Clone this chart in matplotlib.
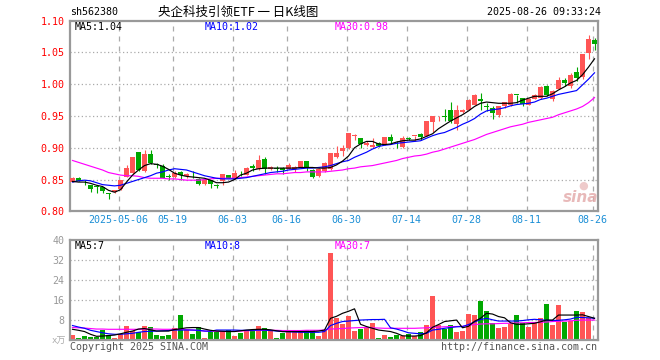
import matplotlib
matplotlib.use("Agg")
import matplotlib.pyplot as plt
import numpy as np

plt.rcParams['font.family'] = ['DejaVu Sans Mono', 'Noto Sans CJK SC']

# ---------------- data ----------------
opens = [0.8465, 0.8518, 0.8475, 0.8408, 0.8385, 0.8380, 0.8285, 0.8303, 0.8355, 0.8544,
         0.8597, 0.8927, 0.8633, 0.8906, 0.8740, 0.8712, 0.8545, 0.8544, 0.8623, 0.8549,
         0.8600, 0.8513, 0.8424, 0.8487, 0.8410, 0.8476, 0.8565, 0.8518, 0.8602, 0.8570,
         0.8712, 0.8660, 0.8816, 0.8660, 0.8686, 0.8675, 0.8670, 0.8660, 0.8696, 0.8790,
         0.8644, 0.8554, 0.8633, 0.8660, 0.8853, 0.8947, 0.8990, 0.9188, 0.9146, 0.9041,
         0.9010, 0.9078, 0.9052, 0.9167, 0.9090, 0.9010, 0.9146, 0.9186, 0.9219, 0.9183,
         0.9400, 0.9495, 0.9492, 0.9592, 0.9380, 0.9560, 0.9602, 0.9680, 0.9775, 0.9647,
         0.9628, 0.9508, 0.9654, 0.9680, 0.9829, 0.9776, 0.9680, 0.9775, 0.9785, 0.9980,
         0.9775, 0.9932, 1.0060, 0.9970, 1.0189, 1.0110, 1.0490, 1.0692]
highs = [0.8540, 0.8535, 0.8500, 0.8420, 0.8400, 0.8390, 0.8290, 0.8340, 0.8490, 0.8728,
         0.8860, 0.8940, 0.8960, 0.8960, 0.8760, 0.8740, 0.8585, 0.8633, 0.8633, 0.8596,
         0.8633, 0.8518, 0.8497, 0.8497, 0.8434, 0.8580, 0.8570, 0.8649, 0.8633, 0.8696,
         0.8748, 0.8879, 0.8848, 0.8706, 0.8710, 0.8691, 0.8754, 0.8706, 0.8790, 0.8790,
         0.8660, 0.8675, 0.8775, 0.8910, 0.9030, 0.9040, 0.9235, 0.9220, 0.9152, 0.9104,
         0.9146, 0.9088, 0.9170, 0.9210, 0.9104, 0.9183, 0.9170, 0.9190, 0.9235, 0.9426,
         0.9505, 0.9503, 0.9607, 0.9720, 0.9680, 0.9607, 0.9770, 0.9850, 0.9864, 0.9707,
         0.9654, 0.9665, 0.9722, 0.9864, 0.9830, 0.9785, 0.9780, 0.9850, 0.9970, 0.9990,
         0.9915, 1.0116, 1.0100, 1.0179, 1.0268, 1.0483, 1.0771, 1.0730]
lows = [0.8460, 0.8470, 0.8420, 0.8310, 0.8290, 0.8290, 0.8190, 0.8290, 0.8340, 0.8540,
        0.8590, 0.8640, 0.8620, 0.8740, 0.8686, 0.8518, 0.8495, 0.8520, 0.8500, 0.8530,
        0.8530, 0.8414, 0.8414, 0.8372, 0.8372, 0.8413, 0.8520, 0.8510, 0.8550, 0.8565,
        0.8633, 0.8650, 0.8590, 0.8649, 0.8620, 0.8590, 0.8660, 0.8620, 0.8690, 0.8633,
        0.8530, 0.8544, 0.8620, 0.8655, 0.8840, 0.8870, 0.8980, 0.9130, 0.9000, 0.9025,
        0.9000, 0.9010, 0.9040, 0.9078, 0.9000, 0.9000, 0.9115, 0.9100, 0.9130, 0.9180,
        0.9245, 0.9420, 0.9420, 0.9390, 0.9287, 0.9550, 0.9590, 0.9670, 0.9600, 0.9576,
        0.9445, 0.9487, 0.9630, 0.9665, 0.9707, 0.9660, 0.9670, 0.9760, 0.9770, 0.9815,
        0.9740, 0.9920, 0.9970, 0.9943, 1.0048, 1.0080, 1.0400, 1.0545]
closes = [0.8528, 0.8476, 0.8470, 0.8355, 0.8380, 0.8320, 0.8280, 0.8330, 0.8486, 0.8675,
          0.8848, 0.8649, 0.8906, 0.8754, 0.8735, 0.8528, 0.8540, 0.8596, 0.8565, 0.8580,
          0.8595, 0.8424, 0.8492, 0.8424, 0.8406, 0.8580, 0.8528, 0.8596, 0.8598, 0.8680,
          0.8675, 0.8800, 0.8660, 0.8700, 0.8660, 0.8643, 0.8722, 0.8700, 0.8790, 0.8686,
          0.8544, 0.8670, 0.8754, 0.8910, 0.8925, 0.9000, 0.9235, 0.9193, 0.9052, 0.9073,
          0.9041, 0.9026, 0.9167, 0.9104, 0.9086, 0.9157, 0.9141, 0.9190, 0.9167, 0.9420,
          0.9497, 0.9499, 0.9487, 0.9419, 0.9602, 0.9602, 0.9749, 0.9838, 0.9733, 0.9644,
          0.9550, 0.9654, 0.9717, 0.9853, 0.9827, 0.9690, 0.9760, 0.9827, 0.9953, 0.9827,
          0.9900, 1.0074, 1.0020, 1.0153, 1.0100, 1.0483, 1.0719, 1.0635]
volumes = [2.1, 1.1, 1.9, 1.5, 1.5, 4.3, 2.1, 1.1, 2.7, 5.7,
           3.9, 3.5, 5.7, 5.3, 2.1, 1.7, 2.1, 5.1, 10.1, 4.1,
           2.5, 5.2, 1.1, 3.5, 3.2, 3.7, 4.0, 1.7, 3.1, 4.3,
           3.7, 5.7, 5.1, 4.1, 1.1, 3.1, 4.1, 3.5, 4.1, 4.1,
           4.1, 1.7, 4.0, 35.1, 9.1, 6.5, 9.7, 3.9, 4.5, 4.8,
           6.8, 1.1, 2.1, 1.5, 2.1, 1.7, 2.4, 1.7, 3.5, 6.1,
           17.9, 6.1, 4.4, 6.1, 3.5, 3.9, 10.5, 10.1, 15.9, 11.7,
           6.8, 5.1, 5.5, 6.4, 10.1, 6.8, 5.5, 6.8, 9.1, 14.5,
           6.1, 14.1, 7.5, 7.7, 11.7, 11.3, 9.1, 0.5]

# moving-average lines as drawn in the reference (price panel)
ma5 = [0.847, 0.846, 0.846, 0.844, 0.841, 0.839, 0.833, 0.830, 0.834, 0.846,
       0.857, 0.865, 0.872, 0.875, 0.874, 0.871, 0.866, 0.860, 0.857, 0.855,
       0.854, 0.853, 0.852, 0.849, 0.845, 0.845, 0.846, 0.850, 0.857, 0.860,
       0.865, 0.867, 0.868, 0.868, 0.868, 0.868, 0.868, 0.868, 0.869, 0.869,
       0.869, 0.868, 0.868, 0.869, 0.873, 0.879, 0.887, 0.900, 0.906, 0.910,
       0.910, 0.906, 0.905, 0.906, 0.909, 0.911, 0.912, 0.912, 0.914, 0.918,
       0.922, 0.930, 0.936, 0.942, 0.947, 0.952, 0.958, 0.965, 0.970, 0.972,
       0.971, 0.970, 0.970, 0.970, 0.971, 0.975, 0.978, 0.981, 0.981, 0.981,
       0.985, 0.991, 0.996, 1.002, 1.006, 1.015, 1.027, 1.040]
ma10 = [0.846, 0.848, 0.849, 0.848, 0.845, 0.842, 0.841, 0.840, 0.841, 0.844,
        0.847, 0.850, 0.853, 0.856, 0.860, 0.862, 0.865, 0.867, 0.866, 0.865,
        0.862, 0.859, 0.856, 0.854, 0.852, 0.851, 0.851, 0.851, 0.852, 0.853,
        0.855, 0.857, 0.859, 0.861, 0.862, 0.863, 0.865, 0.866, 0.867, 0.868,
        0.868, 0.869, 0.870, 0.872, 0.875, 0.878, 0.880, 0.885, 0.889, 0.893,
        0.898, 0.902, 0.904, 0.905, 0.907, 0.908, 0.909, 0.910, 0.911, 0.915,
        0.919, 0.922, 0.924, 0.928, 0.932, 0.937, 0.941, 0.946, 0.953, 0.958,
        0.960, 0.961, 0.963, 0.966, 0.968, 0.969, 0.970, 0.972, 0.976, 0.978,
        0.981, 0.984, 0.986, 0.988, 0.990, 0.999, 1.008, 1.018]
ma30 = [0.880, 0.877, 0.874, 0.871, 0.868, 0.865, 0.861, 0.859, 0.857, 0.856,
        0.856, 0.855, 0.853, 0.852, 0.852, 0.852, 0.851, 0.851, 0.850, 0.849,
        0.849, 0.849, 0.850, 0.851, 0.852, 0.852, 0.852, 0.852, 0.853, 0.854,
        0.855, 0.856, 0.857, 0.858, 0.859, 0.859, 0.860, 0.861, 0.861, 0.862,
        0.862, 0.862, 0.862, 0.863, 0.864, 0.865, 0.867, 0.868, 0.870, 0.871,
        0.872, 0.874, 0.876, 0.878, 0.880, 0.883, 0.885, 0.887, 0.888, 0.890,
        0.893, 0.895, 0.898, 0.901, 0.904, 0.907, 0.910, 0.913, 0.917, 0.921,
        0.924, 0.927, 0.930, 0.933, 0.935, 0.937, 0.940, 0.942, 0.944, 0.946,
        0.948, 0.952, 0.955, 0.958, 0.961, 0.965, 0.971, 0.979]

# moving-average lines (volume panel, 万)
vma5 = [4.4, 4.0, 3.5, 2.4, 1.6, 1.7, 1.9, 2.1, 2.6, 3.2,
        3.7, 4.5, 4.7, 4.2, 3.7, 3.7, 3.7, 4.3, 4.6, 5.0,
        5.1, 5.1, 4.5, 4.0, 3.7, 3.6, 3.5, 3.5, 3.8, 4.1,
        4.3, 4.4, 4.4, 4.2, 3.8, 3.5, 3.5, 3.5, 3.5, 3.5,
        3.5, 3.7, 4.1, 8.8, 9.6, 10.8, 11.6, 12.6, 6.4, 5.5,
        4.8, 4.1, 3.8, 3.5, 2.8, 1.8, 1.7, 1.7, 1.9, 3.0,
        5.2, 6.3, 7.5, 7.8, 8.1, 5.0, 5.6, 7.6, 8.8, 10.8,
        10.5, 9.5, 9.0, 7.0, 6.4, 6.4, 6.6, 6.8, 7.4, 8.1,
        8.1, 10.1, 10.1, 10.1, 10.1, 10.2, 9.5, 8.8]
vma10 = [5.9, 5.3, 4.8, 4.0, 3.5, 3.0, 2.6, 2.4, 2.4, 2.6,
         2.8, 3.2, 3.5, 3.6, 3.7, 3.8, 3.9, 4.1, 4.1, 4.1,
         4.1, 4.0, 3.7, 3.6, 4.1, 4.1, 4.1, 4.1, 4.0, 4.0,
         4.0, 4.1, 4.1, 3.9, 3.7, 3.5, 3.4, 3.3, 3.2, 3.2,
         3.2, 3.2, 3.5, 5.9, 6.8, 7.5, 7.7, 7.9, 8.1, 8.2,
         8.3, 8.3, 8.4, 5.0, 4.5, 3.8, 3.0, 2.8, 2.6, 2.8,
         4.1, 4.4, 4.8, 5.1, 5.4, 5.5, 6.3, 7.3, 8.3, 8.8,
         8.2, 7.7, 7.7, 7.7, 7.7, 7.9, 8.2, 8.4, 8.2, 8.0,
         7.9, 8.0, 8.2, 8.5, 9.2, 9.1, 9.0, 8.8]
vma30 = [5.1, 5.0, 4.9, 4.7, 4.5, 4.5, 4.4, 4.4, 4.4, 4.4,
         4.4, 4.4, 4.5, 4.5, 4.5, 4.4, 4.4, 4.4, 4.4, 4.3,
         4.1, 3.9, 3.7, 3.7, 3.6, 3.5, 3.5, 3.6, 3.7, 3.8,
         3.9, 4.0, 4.0, 4.0, 4.0, 3.9, 3.9, 3.9, 3.9, 4.0,
         4.0, 4.0, 4.1, 4.5, 4.6, 4.7, 4.9, 5.0, 5.1, 5.1,
         5.0, 4.9, 4.8, 4.8, 4.8, 4.8, 4.8, 4.8, 4.9, 5.0,
         5.2, 5.3, 5.4, 5.5, 5.5, 5.6, 6.0, 6.3, 6.5, 6.6,
         6.6, 6.7, 6.8, 6.8, 7.0, 7.0, 7.1, 7.1, 7.2, 7.3,
         7.5, 7.6, 7.7, 7.8, 8.0, 8.1, 8.1, 8.1]

tick_idx = [8, 17, 27, 36, 46, 56, 66, 76, 87]
tick_labels = ['2025-05-06', '05-19', '06-03', '06-16', '06-30',
               '07-14', '07-28', '08-11', '08-26']
price_ticks = [0.80, 0.85, 0.90, 0.95, 1.00, 1.05, 1.10]
vol_ticks = [8, 16, 24, 32, 40]

# ---------------- styling ----------------
W, H = 660, 360
RED = '#ff5555'
GREEN = '#00a800'
GRID = '#aaaaaa'
FRAME = '#999999'
XLAB = '#1c8fd6'
FS = 7.2


def px(x, y):
    return x / W, 1 - y / H


fig = plt.figure(figsize=(W / 100, H / 100), dpi=100)
fig.patch.set_facecolor('white')

L, R = 70, 598
ax = fig.add_axes([L / W, 1 - 211.3 / H, (R - L) / W, (211.3 - 20.7) / H])
axv = fig.add_axes([L / W, 1 - 340.3 / H, (R - L) / W, (340.3 - 240.3) / H])

o = np.array(opens)
h = np.array(highs)
lo = np.array(lows)
c = np.array(closes)
v = np.array(volumes)
x = np.arange(len(c))
up = c >= o
cols = [RED if u else GREEN for u in up]

xmin, xmax = -0.42, 87.58
grid_x = [t - 0.3 for t in tick_idx]

for a in (ax, axv):
    a.set_xlim(xmin, xmax)
    for gx in grid_x:
        a.axvline(gx, color=GRID, lw=0.9, ls=(0, (4, 4)), zorder=0)
    for s in a.spines.values():
        s.set_color(FRAME)
        s.set_linewidth(1.6)
    a.tick_params(length=0)

# price panel
ax.set_ylim(0.80, 1.10)
for gy in price_ticks[1:-1]:
    ax.axhline(gy, color=GRID, lw=0.9, ls=(0, (1, 2)), zorder=0)
ax.vlines(x, lo, h, colors=cols, lw=0.8, zorder=2)
body = np.maximum(np.abs(c - o), 0.0012)
ax.bar(x, body, bottom=np.minimum(o, c), width=0.82, color=cols, lw=0, zorder=3)
ax.plot(x, ma30, color='#ff00ff', lw=0.85, zorder=4)
ax.plot(x, ma10, color='#0000ff', lw=0.85, zorder=4)
ax.plot(x, ma5, color='black', lw=0.85, zorder=4)
ax.set_yticks(price_ticks)
ax.set_yticklabels(['%.2f' % t for t in price_ticks])
ax.tick_params(axis='y', labelcolor='red', labelsize=FS, pad=4)
ax.set_xticks(grid_x)
ax.set_xticklabels(tick_labels)
ax.tick_params(axis='x', labelcolor=XLAB, labelsize=FS, pad=3)

# volume panel
axv.set_ylim(0, 40)
for gy in vol_ticks[:-1]:
    axv.axhline(gy, color=GRID, lw=0.9, ls=(0, (1, 2)), zorder=0)
axv.bar(x, v, width=0.78, color=cols, lw=0, zorder=2)
axv.plot(x, vma30, color='#ff00ff', lw=0.85, zorder=4)
axv.plot(x, vma10, color='#0000ff', lw=0.85, zorder=4)
axv.plot(x, vma5, color='black', lw=0.85, zorder=4)
axv.set_yticks(vol_ticks)
axv.set_yticklabels([str(t) for t in vol_ticks])
axv.tick_params(axis='y', labelcolor='#999999', labelsize=FS, pad=4)
axv.set_xticks([])

# texts
fig.text(*px(70, 12), 'sh562380', fontsize=FS, va='center', ha='left')
fig.text(*px(238, 12), '央企科技引领ETF 一 日K线图', fontsize=9, va='center', ha='center',
         family=['Noto Sans CJK SC', 'DejaVu Sans'])
fig.text(*px(601, 12), '2025-08-26 09:33:24', fontsize=FS, va='center', ha='right')

fig.text(*px(75, 27), 'MA5:1.04', fontsize=FS, va='center', color='black')
fig.text(*px(205, 27), 'MA10:1.02', fontsize=FS, va='center', color='#0000ff')
fig.text(*px(335, 27), 'MA30:0.98', fontsize=FS, va='center', color='#ff00ff')

fig.text(*px(75, 246), 'MA5:7', fontsize=FS, va='center', color='black')
fig.text(*px(205, 246), 'MA10:8', fontsize=FS, va='center', color='#0000ff')
fig.text(*px(335, 246), 'MA30:7', fontsize=FS, va='center', color='#ff00ff')

fig.text(*px(66, 341), 'x万', fontsize=6.5, va='center', ha='right', color='#aaaaaa',
         family=['DejaVu Sans Mono', 'Noto Sans CJK SC'])
fig.text(*px(70, 347), 'Copyright 2025 SINA.COM', fontsize=FS, va='center', ha='left', color='#555555')
fig.text(*px(597, 347), 'http://finance.sina.com.cn', fontsize=FS, va='center', ha='right', color='#555555')

# sina watermark
fig.text(*px(581, 197), 'sina', fontsize=11, fontweight='bold', style='italic', va='center', ha='center',
         color='#e3a8a8', alpha=0.8, family='DejaVu Sans')
fig.text(*px(583, 186), '●', fontsize=8, va='center', ha='center', color='#e8b4b4', alpha=0.7,
         family='DejaVu Sans')

fig.savefig('out.png', dpi=100, facecolor='white')
